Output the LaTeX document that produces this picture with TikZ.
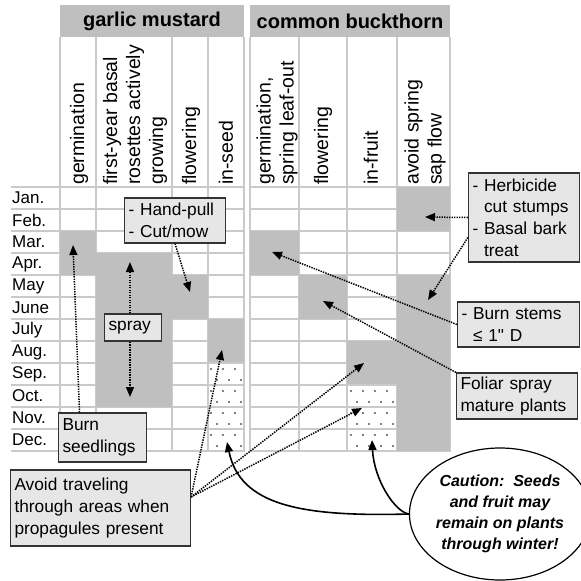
\documentclass[tikz,border=0pt]{standalone}
\usepackage{fontspec}
\setmainfont{Liberation Sans}
\usetikzlibrary{arrows.meta,shapes.geometric,calc}
\definecolor{cellgray}{HTML}{BFBFBF}
\definecolor{gridgray}{HTML}{CACACA}
\definecolor{boxfill}{HTML}{E6E6E6}
\definecolor{boxline}{HTML}{333333}
\newcommand\HdrF{\fontsize{20}{24}\selectfont\bfseries}
\newcommand\ColF{\fontsize{19.5}{23}\selectfont}
\newcommand\MonF{\fontsize{17}{20}\selectfont}
\newcommand\BoxF{\fontsize{17.3}{21.6}\selectfont}
\newcommand\CauF{\fontsize{16}{21}\selectfont\bfseries\itshape}
\newcommand\StraightQ{{\addfontfeatures{Ligatures=TeXOff}"}}
\tikzset{
  gridline/.style={draw=gridgray, line width=1.8pt},
  colhdr/.style={rotate=90, anchor=west, font=\ColF, align=left, inner sep=0pt},
  monthlbl/.style={anchor=west, font=\MonF, inner sep=0pt},
  lbl/.style={draw=boxline, fill=boxfill, line width=1.2pt, inner xsep=4pt, inner ysep=2pt, align=left, font=\BoxF},
  dotarrow/.style={line width=1.5pt, dash pattern=on 1.4pt off 1.1pt, -{Triangle[length=10pt,width=8pt]}},
  curvarrow/.style={line width=1.6pt, -{Triangle[length=10pt,width=8pt]}},
}
\begin{document}
\begin{tikzpicture}[x=1pt,y=-1pt]
\useasboundingbox (0,0) rectangle (581,581);
\fill[white] (0,0) rectangle (581,581);
% header bands
\fill[cellgray] (60,5) rectangle (244,37);
\fill[cellgray] (250,5) rectangle (450,37);
\node[font=\HdrF] (gm) at (152,21) {garlic mustard};
\node[font=\HdrF] (cb) at (350,21) {common buckthorn};
% grid lines
\foreach \i in {0,...,12} {
  \draw[gridline] (11,187+22*\i) -- (244,187+22*\i);
  \draw[gridline] (250,187+22*\i) -- (450,187+22*\i);
}
\foreach \x in {60,96,172,208,244,250,299,347,397,450} {
  \draw[gridline] (\x,37) -- (\x,452);
}
% gray cells: (x0,x1,first row,last row)
\foreach \xa/\xb/\ra/\rb in {60/96/3/4, 96/172/4/10, 172/208/5/6, 208/244/7/8,
                              250/299/3/4, 299/347/5/6, 347/397/8/9, 397/450/1/2, 397/450/5/12} {
  \fill[cellgray] (\xa,{187+22*(\ra-1)}) rectangle (\xb,{187+22*\rb});
}
% dotted cells
\begin{scope}
\clip (209,364) rectangle (243,450);
\foreach \r in {0,...,8} {
  \foreach \c in {0,...,3} {
    \fill[black] ({211+12*\c+6*mod(\r,2)},{369+11*\r}) circle (0.9pt);
  }
}
\end{scope}
\begin{scope}
\clip (348,386) rectangle (396,450);
\foreach \r in {0,...,6} {
  \foreach \c in {0,...,4} {
    \fill[black] ({351+12*\c+6*mod(\r,2)},{391+11*\r}) circle (0.9pt);
  }
}
\end{scope}
% redraw grid lines through dotted cells
\foreach \i in {8,...,12} {
  \draw[gridline] (208,187+22*\i) -- (244,187+22*\i);
}
\foreach \i in {9,...,12} {
  \draw[gridline] (347,187+22*\i) -- (397,187+22*\i);
}
% column headers
\node[colhdr] (h1) at (79,185) {germination};
\node[colhdr] (h2) at (135,185) {first-year basal\\rosettes actively\\growing};
\node[colhdr] (h3) at (191,185) {flowering};
\node[colhdr] (h4) at (226,185) {in-seed};
\node[colhdr] (h5) at (277,185) {germination,\\spring leaf-out};
\node[colhdr] (h6) at (323,185) {flowering};
\node[colhdr] (h7) at (371,185) {in-fruit};
\node[colhdr] (h8) at (425,185) {avoid spring\\sap flow};
% months
\foreach \m [count=\i] in {Jan.,Feb.,Mar.,Apr.,May,June,July,Aug.,Sep.,Oct.,Nov.,Dec.} {
  \node[monthlbl] (m\i) at (12,{198+22*(\i-1)}) {\m};
}
% label boxes
\node[lbl, text width=93pt, minimum height=45pt] (hp) at (175,220.5) {- Hand-pull\\- Cut/mow};
\node[lbl, text width=49pt, minimum height=27pt] (spray) at (133,327.5) {spray};
\node[lbl, text width=80pt, minimum height=49pt] (bs) at (102.5,437.5) {Burn\\seedlings};
\node[lbl, text width=172pt, minimum height=76pt] (av) at (100.5,508) {Avoid traveling\\through areas when\\propagules present};
\node[lbl, text width=103pt, minimum height=89pt] (hb) at (524,217.5) {- Herbicide\\\phantom{- }cut stumps\\- Basal bark\\\phantom{- }treat};
\node[lbl, text width=114pt, minimum height=45pt] (bst) at (518.5,324.5) {- Burn stems\\\phantom{- }≤ 1\StraightQ{} D};
\node[lbl, text width=113pt, minimum height=46pt] (fo) at (517,396) {Foliar spray\\mature plants};
\node[draw=black, fill=white, line width=1.2pt, ellipse, minimum width=160pt, minimum height=132pt, inner sep=0pt, align=center, font=\CauF] (cau) at (500,514) {Caution:~~Seeds\\and fruit may\\remain on plants\\through winter!};
% free ends
\coordinate (eHp) at (190,292);
\coordinate (eSp1) at (130,262);
\coordinate (eSp2) at (130,397);
\coordinate (eBs) at (73,245);
\coordinate (eAv1) at (222,350);
\coordinate (eAv2) at (364,363);
\coordinate (eAv3) at (362,408);
\coordinate (eHb1) at (425,217);
\coordinate (eHb2) at (428,300);
\coordinate (eBst) at (272,252);
\coordinate (eFo) at (323,301);
\coordinate (eC1) at (372,440);
\coordinate (eC2) at (227,442);
% dotted arrows
\draw[dotarrow] (hp.south) -- (eHp);
\draw[dotarrow] ([xshift=-3pt]spray.north) -- (eSp1);
\draw[dotarrow] ([xshift=-3pt]spray.south) -- (eSp2);
\draw[dotarrow] ([xshift=-23pt]bs.north) -- (eBs);
\draw[dotarrow] ([yshift=11pt]av.east) -- (eAv1);
\draw[dotarrow] ([yshift=11pt]av.east) -- (eAv2);
\draw[dotarrow] ([yshift=11pt]av.east) -- (eAv3);
\draw[dotarrow] (hb.west) -- (eHb1);
\draw[dotarrow] ([yshift=-20pt]hb.west) -- (eHb2);
\draw[dotarrow] (bst.west) -- (eBst);
\draw[dotarrow] (fo.north west) -- (eFo);
% curved arrows
\draw[curvarrow] (cau.west) .. controls (395,512) and (374,480) .. (eC1);
\draw[curvarrow] (cau.west) .. controls (300,517) and (240,505) .. (eC2);
\end{tikzpicture}
\end{document}
